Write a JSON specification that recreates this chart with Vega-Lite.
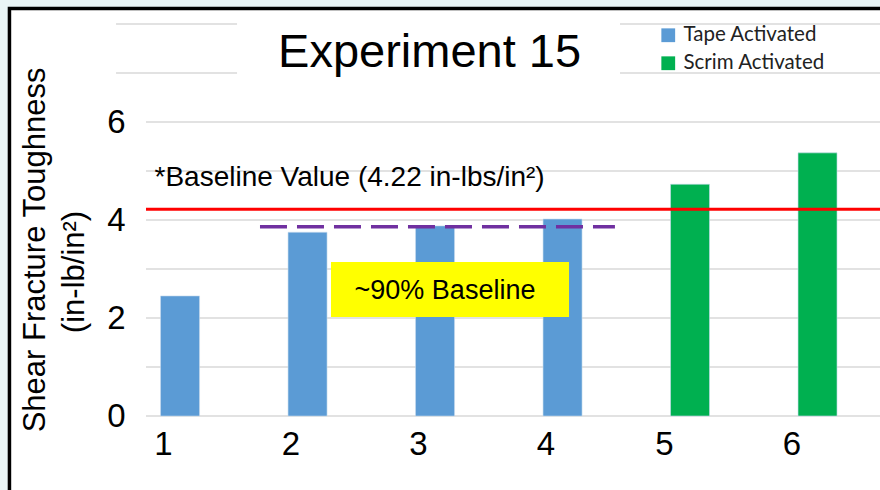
{
  "$schema": "https://vega.github.io/schema/vega-lite/v6.json",
  "width": 734,
  "height": 392,
  "autosize": {"type": "none"},
  "padding": {"left": 146, "top": 24, "right": 0, "bottom": 74},
  "background": "#e9f5f6",
  "config": {
    "view": {"stroke": null},
    "font": "Liberation Sans",
    "text": {"font": "Liberation Sans", "color": "black"},
    "scale": {"continuousPadding": 0}
  },
  "datasets": {
    "samples": [
      {"sample": 1, "toughness": 2.45, "activation": "Tape Activated"},
      {"sample": 2, "toughness": 3.75, "activation": "Tape Activated"},
      {"sample": 3, "toughness": 3.88, "activation": "Tape Activated"},
      {"sample": 4, "toughness": 4.02, "activation": "Tape Activated"},
      {"sample": 5, "toughness": 4.73, "activation": "Scrim Activated"},
      {"sample": 6, "toughness": 5.37, "activation": "Scrim Activated"}
    ],
    "gridLevels": [
      {"level": 0}, {"level": 1}, {"level": 2}, {"level": 3},
      {"level": 4}, {"level": 5}, {"level": 6}
    ],
    "gridTop": [{"level": 7}, {"level": 8}],
    "baseline": [{"value": 4.22}],
    "ninetyPct": [{"value": 3.86}]
  },
  "layer": [
    {
      "data": {"values": [{}]},
      "mark": {"type": "rect", "fill": "white", "stroke": "black", "strokeWidth": 3.5},
      "encoding": {
        "x": {
          "datum": -0.338,
          "type": "quantitative",
          "scale": {"domain": [0.733, 6.49], "nice": false, "zero": false, "padding": 0},
          "axis": {
            "values": [1, 2, 3, 4, 5, 6],
            "format": "d",
            "grid": false,
            "domain": false,
            "ticks": false,
            "title": null,
            "labelFontSize": 33,
            "labelFont": "Liberation Sans",
            "labelColor": "black",
            "labelPadding": 12,
            "labelOffset": {"condition": {"test": "datum.value >= 5", "value": -26}, "value": -17},
            "zindex": 1
          }
        },
        "x2": {"datum": 7.5},
        "y": {
          "datum": 8.316,
          "type": "quantitative",
          "scale": {"domain": [0, 8], "nice": false, "zero": false, "padding": 0},
          "axis": {
            "values": [0, 2, 4, 6],
            "grid": false,
            "domain": false,
            "ticks": false,
            "title": null,
            "labelFontSize": 33,
            "labelFont": "Liberation Sans",
            "labelColor": "black",
            "labelPadding": 21,
            "zindex": 1
          }
        },
        "y2": {"datum": -2}
      }
    },
    {
      "data": {"name": "gridLevels"},
      "mark": {"type": "rule", "color": "#d9d9d9", "strokeWidth": 1.5},
      "encoding": {
        "y": {"field": "level", "type": "quantitative"},
        "x": {"datum": 0.733, "type": "quantitative"},
        "x2": {"datum": 6.49}
      }
    },
    {
      "data": {"name": "gridTop"},
      "mark": {"type": "rule", "color": "#d9d9d9", "strokeWidth": 1.5},
      "encoding": {
        "y": {"field": "level", "type": "quantitative"},
        "x": {"datum": 0.498, "type": "quantitative"},
        "x2": {"datum": 6.49}
      }
    },
    {
      "data": {"values": [{}]},
      "mark": {"type": "rect", "fill": "white"},
      "encoding": {
        "x": {"datum": 1.447, "type": "quantitative"},
        "x2": {"datum": 4.451},
        "y": {"datum": 8.2, "type": "quantitative"},
        "y2": {"datum": 6.8}
      }
    },
    {
      "data": {"name": "samples"},
      "mark": {"type": "bar", "width": 39, "stroke": "#c8dcef", "strokeWidth": 0.6},
      "encoding": {
        "x": {"field": "sample", "type": "quantitative"},
        "y": {"field": "toughness", "type": "quantitative"},
        "color": {
          "field": "activation",
          "type": "nominal",
          "scale": {"domain": ["Tape Activated", "Scrim Activated"], "range": ["#5b9bd5", "#00b050"]},
          "legend": {
            "orient": "none",
            "legendX": 512,
            "legendY": 1,
            "title": null,
            "padding": 0,
            "symbolType": "square",
            "symbolSize": 190,
            "symbolStrokeWidth": 0,
            "labelFont": "Lato",
            "labelFontSize": 20.5,
            "labelColor": "#222222",
            "labelOffset": 5,
            "rowPadding": 7
          }
        }
      }
    },
    {
      "data": {"name": "baseline"},
      "mark": {"type": "rule", "color": "#ff0000", "strokeWidth": 3},
      "encoding": {
        "y": {"field": "value", "type": "quantitative"},
        "x": {"datum": 0.733, "type": "quantitative"},
        "x2": {"datum": 6.49}
      }
    },
    {
      "data": {"name": "ninetyPct"},
      "mark": {"type": "rule", "color": "#7030a0", "strokeWidth": 3.5, "strokeDash": [27, 10]},
      "encoding": {
        "y": {"field": "value", "type": "quantitative"},
        "x": {"datum": 1.627, "type": "quantitative"},
        "x2": {"datum": 4.411}
      }
    },
    {
      "data": {"values": [{}]},
      "mark": {"type": "rect", "fill": "#ffff00"},
      "encoding": {
        "x": {"datum": 2.184, "type": "quantitative"},
        "x2": {"datum": 4.051},
        "y": {"datum": 3.143, "type": "quantitative"},
        "y2": {"datum": 2.02}
      }
    },
    {
      "data": {"values": [{"label": "~90% Baseline"}]},
      "mark": {"type": "text", "fontSize": 27, "align": "center", "baseline": "alphabetic"},
      "encoding": {
        "text": {"field": "label"},
        "x": {"datum": 3.078, "type": "quantitative"},
        "y": {"datum": 2.388, "type": "quantitative"}
      }
    },
    {
      "data": {"values": [{"label": "*Baseline Value (4.22 in-lbs/in²)"}]},
      "mark": {"type": "text", "fontSize": 28, "align": "left", "baseline": "alphabetic"},
      "encoding": {
        "text": {"field": "label"},
        "x": {"datum": 0.80, "type": "quantitative"},
        "y": {"datum": 4.69, "type": "quantitative"}
      }
    },
    {
      "data": {"values": [{"label": "Experiment 15"}]},
      "mark": {"type": "text", "fontSize": 47, "align": "center", "baseline": "alphabetic"},
      "encoding": {
        "text": {"field": "label"},
        "x": {"datum": 2.957, "type": "quantitative"},
        "y": {"datum": 7.122, "type": "quantitative"}
      }
    },
    {
      "data": {"values": [{"label": "Shear Fracture Toughness"}]},
      "mark": {"type": "text", "fontSize": 31, "align": "center", "baseline": "alphabetic", "angle": 270},
      "encoding": {
        "text": {"field": "label"},
        "x": {"datum": -0.059, "type": "quantitative"},
        "y": {"datum": 3.388, "type": "quantitative"}
      }
    },
    {
      "data": {"values": [{"label": "(in-lb/in²)"}]},
      "mark": {"type": "text", "fontSize": 31, "align": "center", "baseline": "alphabetic", "angle": 270},
      "encoding": {
        "text": {"field": "label"},
        "x": {"datum": 0.247, "type": "quantitative"},
        "y": {"datum": 2.939, "type": "quantitative"}
      }
    }
  ]
}
